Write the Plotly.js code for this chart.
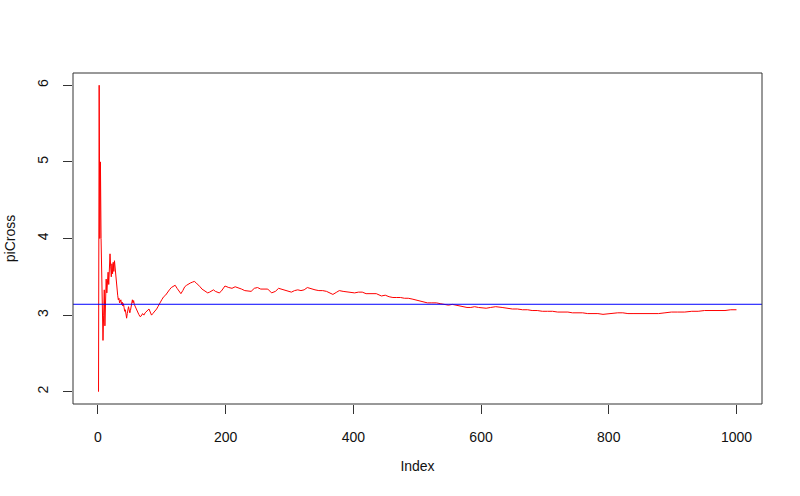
<!DOCTYPE html>
<html>
<head>
<meta charset="utf-8">
<script src="https://cdn.plot.ly/plotly-3.0.1.min.js"></script>
<style>html,body{margin:0;padding:0;background:#fff;}#chart{width:800px;height:496px;}</style>
</head>
<body>
<div id="chart"></div>
<script>
const indexValues = [
  1,2,3,4,5,6,7,8,9,10,11,12,13,14,15,16,17,18,19,20,
  21,22,23,24,25,26,27,28,29,30,31,32,33,34,35,36,37,38,39,40,
  41,42,43,44,45,46,47,48,49,50,51,52,53,54,55,56,57,58,59,60,
  62,64,66,68,70,72,74,76,78,80,82,84,86,88,90,92,94,96,98,100,
  103,106,109,112,115,118,121,124,127,130,133,136,139,142,145,148,151,154,157,160,
  163,166,169,172,175,178,181,184,187,190,193,196,199,
  205,210,215,220,225,230,235,240,245,250,255,260,266,272,278,283,288,293,298,303,
  308,313,318,323,328,334,340,346,352,358,362,368,374,378,384,390,396,402,408,414,
  420,428,436,444,450,456,462,468,474,480,486,492,498,504,510,516,522,530,536,542,
  549,555,560,566,572,578,584,590,596,602,608,615,623,633,641,649,657,665,673,680,
  688,696,704,712,720,728,736,743,751,759,767,775,783,791,799,806,814,822,830,838,
  846,856,867,878,888,898,908,919,930,940,950,961,971,982,991,1000
];
// piCross estimates
const piCross = [
  2.00,6.00,4.00,5.00,4.00,3.43,3.20,2.67,3.00,3.33,2.86,3.20,3.47,3.29,3.53,3.56,3.40,3.60,3.80,3.64,
  3.50,3.67,3.54,3.69,3.57,3.71,3.60,3.50,3.41,3.33,3.26,3.20,3.22,3.16,3.18,3.20,3.14,3.17,3.12,3.15,
  3.10,3.05,3.07,3.00,2.96,3.02,3.05,3.11,3.07,3.03,3.06,3.12,3.17,3.20,3.16,3.19,3.14,3.12,3.10,3.07,
  3.04,3.01,2.98,2.99,3.02,3.00,3.03,3.05,3.07,3.08,3.04,3.00,3.02,3.04,3.05,3.08,3.11,3.15,3.17,3.20,
  3.24,3.26,3.30,3.33,3.36,3.38,3.39,3.35,3.31,3.28,3.32,3.37,3.39,3.41,3.42,3.43,3.44,3.42,3.40,3.37,
  3.34,3.32,3.30,3.29,3.30,3.32,3.33,3.31,3.30,3.29,3.31,3.35,3.38,
  3.36,3.35,3.37,3.36,3.34,3.32,3.31,3.31,3.35,3.36,3.34,3.34,3.34,3.29,3.31,3.35,3.34,3.33,3.31,3.30,
  3.32,3.33,3.32,3.33,3.36,3.34,3.33,3.32,3.32,3.31,3.29,3.27,3.30,3.32,3.31,3.30,3.29,3.29,3.30,3.30,
  3.28,3.28,3.28,3.25,3.26,3.24,3.23,3.23,3.23,3.22,3.22,3.21,3.20,3.19,3.18,3.16,3.16,3.16,3.15,3.14,
  3.13,3.14,3.13,3.12,3.11,3.10,3.10,3.11,3.10,3.09,3.09,3.10,3.11,3.10,3.09,3.08,3.08,3.07,3.07,3.06,
  3.06,3.05,3.05,3.05,3.04,3.04,3.04,3.03,3.03,3.03,3.02,3.02,3.02,3.01,3.02,3.02,3.03,3.03,3.02,3.02,
  3.02,3.02,3.02,3.02,3.03,3.04,3.04,3.04,3.05,3.05,3.06,3.06,3.06,3.06,3.07,3.07
];
const xTicks = [0,200,400,600,800,1000];
const yTicks = [2,3,4,5,6];
const referenceLine = Math.PI;

const font = {family: 'Liberation Sans, Arial, sans-serif', size: 14, color: '#111'};

const trace = {
  x: indexValues, y: piCross, type: 'scatter', mode: 'lines',
  line: {color: '#FF0000', width: 1}, hoverinfo: 'none'
};

const layout = {
  width: 800, height: 496,
  margin: {l: 73, r: 38, t: 73, b: 92, pad: 0},
  paper_bgcolor: '#fff', plot_bgcolor: '#fff',
  showlegend: false, font: font,
  xaxis: {
    range: [-38.96, 1039.96], tickvals: xTicks, ticktext: xTicks.map(String),
    ticks: 'outside', ticklen: 9, tickwidth: 1, tickcolor: '#333',
    showgrid: false, zeroline: false, showline: false,
    ticklabelstandoff: 11, tickfont: font,
    title: {text: 'Index', font: font, standoff: 17}
  },
  yaxis: {
    range: [1.84, 6.16], tickvals: yTicks, ticktext: yTicks.map(String),
    ticks: 'outside', ticklen: 9, tickwidth: 1, tickcolor: '#333',
    showgrid: false, zeroline: false, showline: false,
    tickangle: -90, ticklabelstandoff: 9, tickfont: font,
    title: {text: 'piCross', font: font, standoff: 16}
  },
  shapes: [
    {type: 'line', xref: 'paper', yref: 'y', x0: 0, x1: 1, y0: referenceLine, y1: referenceLine,
     line: {color: '#0000FF', width: 1}},
    {type: 'rect', xref: 'paper', yref: 'paper', x0: 0, x1: 1, y0: 0, y1: 1,
     line: {color: '#333', width: 1}}
  ]
};

Plotly.newPlot('chart', [trace], layout, {staticPlot: true, displayModeBar: false});
</script>
</body>
</html>
